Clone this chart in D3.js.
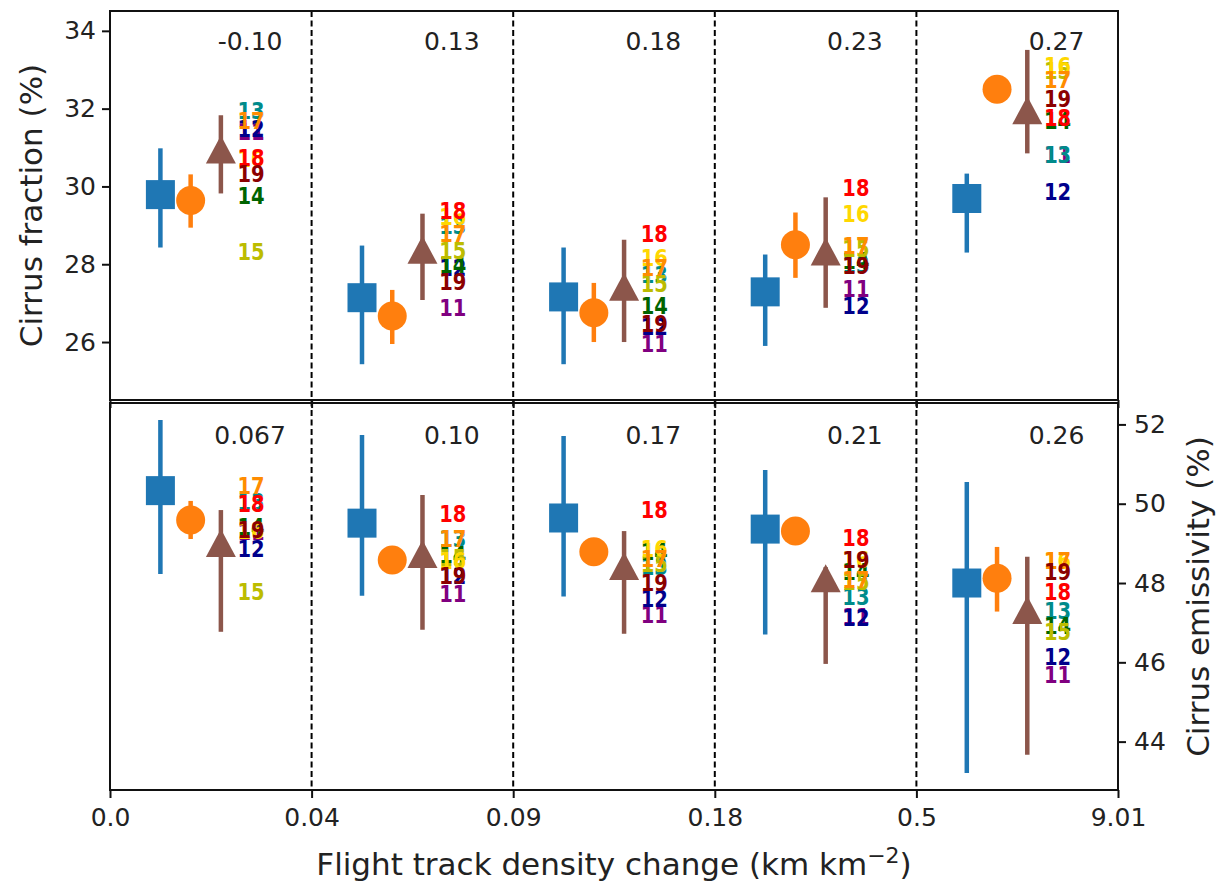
<!DOCTYPE html>
<html>
<head>
<meta charset="utf-8">
<script src="https://cdn.jsdelivr.net/npm/d3@7"></script>
<style>
  body { margin: 0; background: #fff; }
  svg text { font-family: "DejaVu Sans", sans-serif; fill: #222; }
</style>
</head>
<body>
<div id="chart"></div>
<script>
// Bin edges (tick labels) and per-panel correlation labels
var binLabels = ["0.0", "0.04", "0.09", "0.18", "0.5", "9.01"];
var fracCorr = ["-0.10", "0.13", "0.18", "0.23", "0.27"];
var emisCorr = ["0.067", "0.10", "0.17", "0.21", "0.26"];

var years = ["11", "12", "13", "14", "15", "16", "17", "18", "19"];
var yearColors = ["#800080", "#00008b", "#008b8b", "#006400", "#bcbc00",
                  "#ffd700", "#ff8c00", "#ff0000", "#8b0000"];

// Cirrus fraction: [value, lower, upper] per bin
var fracSquare = [[29.79, 28.43, 30.98], [27.14, 25.43, 28.48], [27.16, 25.43, 28.43], [27.29, 25.90, 28.25], [29.69, 28.30, 30.33]];
var fracCircle = [[29.64, 28.94, 30.31], [26.67, 25.95, 27.34], [26.75, 26.00, 27.52], [28.50, 27.65, 29.33], [32.50, 32.40, 32.60]];
var fracTriangle = [[30.95, 29.82, 31.83], [28.37, 27.08, 29.30], [27.42, 26.00, 28.63], [28.33, 26.88, 29.72], [31.96, 30.85, 33.51]];
// one row per year (11..19), one column per bin
var fracYears = [
  [31.42, 26.90, 25.97, 27.39, 30.83],
  [31.50, 27.91, 26.41, 26.95, 29.87],
  [31.96, 28.99, 27.75, 28.00, 30.83],
  [29.77, 28.00, 26.95, 28.09, 31.70],
  [28.32, 28.35, 27.50, 28.40, 32.99],
  [30.72, 29.22, 28.17, 29.30, 33.12],
  [31.70, 28.79, 27.91, 28.48, 32.74],
  [30.75, 29.38, 28.79, 29.97, 31.78],
  [30.33, 27.57, 26.49, 27.96, 32.25]
];

// Cirrus emissivity
var emisSquare = [[50.33, 48.23, 52.11], [49.51, 47.68, 51.73], [49.64, 47.66, 51.71], [49.36, 46.70, 50.85], [48.00, 43.21, 50.55]];
var emisCircle = [[49.59, 49.11, 50.07], [48.58, 48.48, 48.68], [48.79, 48.69, 48.89], [49.31, 49.21, 49.41], [48.12, 47.28, 48.91]];
var emisTriangle = [[49.01, 46.77, 49.84], [48.73, 46.82, 50.22], [48.43, 46.72, 49.31], [48.12, 45.96, 48.40], [47.32, 43.67, 48.66]];
var emisYears = [
  [49.30, 47.75, 47.20, 47.16, 45.69],
  [48.88, 48.20, 47.62, 47.13, 46.14],
  [50.07, 49.13, 48.41, 47.66, 47.30],
  [49.42, 48.71, 48.79, 48.28, 46.93],
  [47.78, 48.64, 48.50, 48.05, 46.77],
  [49.32, 48.58, 48.86, 48.60, 48.58],
  [50.47, 49.13, 48.63, 48.08, 48.58],
  [50.01, 49.76, 49.86, 49.14, 47.78],
  [49.35, 48.20, 48.01, 48.60, 48.28]
];

var svgWidth = 1223;
var svgHeight = 884;

var left = 110, right = 1118;
var topY0 = 11, topY1 = 400;
var botY0 = 403, botY1 = 790;

var svg = d3.select("#chart")
  .append("svg")
    .attr("width", svgWidth)
    .attr("height", svgHeight);

var x = d3.scaleLinear().domain([0, 5]).range([left, right]);
var yTop = d3.scaleLinear().domain([24.51, 34.51]).range([topY1, topY0]);
var yBot = d3.scaleLinear().domain([42.78, 52.54]).range([botY1, botY0]);

var markOffset = { square: 0.25, circle: 0.40, triangle: 0.55, year: 0.70 };

function drawPanel(g, y, squares, circles, triangles, yearVals) {
  // error bars
  [[squares, markOffset.square, "#1f77b4"],
   [circles, markOffset.circle, "#ff7f0e"],
   [triangles, markOffset.triangle, "#8c564b"]].forEach(function(s) {
    g.selectAll(null)
      .data(s[0])
      .enter()
      .append("line")
      .attr("x1", (d, i) => x(i + s[1]))
      .attr("x2", (d, i) => x(i + s[1]))
      .attr("y1", d => y(d[1]))
      .attr("y2", d => y(d[2]))
      .attr("stroke", s[2])
      .attr("stroke-width", 4.5);
  });

  g.selectAll(null)
    .data(squares)
    .enter()
    .append("rect")
    .attr("x", (d, i) => x(i + markOffset.square) - 14.5)
    .attr("y", d => y(d[0]) - 14.5)
    .attr("width", 29)
    .attr("height", 29)
    .attr("fill", "#1f77b4");

  g.selectAll(null)
    .data(circles)
    .enter()
    .append("circle")
    .attr("cx", (d, i) => x(i + markOffset.circle))
    .attr("cy", d => y(d[0]))
    .attr("r", 14.5)
    .attr("fill", "#ff7f0e");

  g.selectAll(null)
    .data(triangles)
    .enter()
    .append("path")
    .attr("d", function(d, i) {
      var cx = x(i + markOffset.triangle), cy = y(d[0]);
      return "M" + cx + "," + (cy - 14) + "L" + (cx + 15) + "," + (cy + 14) +
             "L" + (cx - 15) + "," + (cy + 14) + "Z";
    })
    .attr("fill", "#8c564b");

  // yearly labels, drawn 11 -> 19 (slightly tall, as in the original)
  yearVals.forEach(function(row, k) {
    g.selectAll(null)
      .data(row)
      .enter()
      .append("text")
      .attr("transform", (d, i) => `translate(${x(i + markOffset.year)}, ${y(d)}) scale(1, 1.22)`)
      .attr("dy", "0.36em")
      .attr("text-anchor", "middle")
      .style("font-size", "19.5px")
      .style("font-weight", "bold")
      .style("fill", yearColors[k])
      .text(years[k]);
  });
}

var topG = svg.append("g");
var botG = svg.append("g");

// dashed bin separators
svg.selectAll("line.sep")
  .data([1, 2, 3, 4])
  .enter()
  .append("line")
  .attr("class", "sep")
  .attr("x1", d => x(d))
  .attr("x2", d => x(d))
  .attr("y1", topY0)
  .attr("y2", botY1)
  .attr("stroke", "#000")
  .attr("stroke-width", 2)
  .attr("stroke-dasharray", "6,3.5");

drawPanel(topG, yTop, fracSquare, fracCircle, fracTriangle, fracYears);
drawPanel(botG, yBot, emisSquare, emisCircle, emisTriangle, emisYears);

// correlation labels
topG.selectAll(null)
  .data(fracCorr)
  .enter()
  .append("text")
  .attr("x", (d, i) => x(i + 0.695))
  .attr("y", topY0 + 39)
  .attr("text-anchor", "middle")
  .style("font-size", "25px")
  .text(d => d);

botG.selectAll(null)
  .data(emisCorr)
  .enter()
  .append("text")
  .attr("x", (d, i) => x(i + 0.695))
  .attr("y", botY0 + 41)
  .attr("text-anchor", "middle")
  .style("font-size", "25px")
  .text(d => d);

// panel frames
[[topY0, topY1], [botY0, botY1]].forEach(function(p) {
  svg.append("rect")
    .attr("x", left)
    .attr("y", p[0])
    .attr("width", right - left)
    .attr("height", p[1] - p[0])
    .attr("fill", "none")
    .attr("stroke", "#111")
    .attr("stroke-width", 2);
});

function styleAxis(sel) {
  sel.select(".domain").remove();
  sel.selectAll(".tick line").attr("stroke", "#111").attr("stroke-width", 2);
  sel.selectAll(".tick text").style("font-size", "25px").style("fill", "#222");
}

// left axis (top panel)
svg.append("g")
  .attr("transform", `translate(${left}, 0)`)
  .call(d3.axisLeft(yTop).tickValues([26, 28, 30, 32, 34]).tickSize(8).tickPadding(6))
  .call(styleAxis);

// right axis (bottom panel)
svg.append("g")
  .attr("transform", `translate(${right}, 0)`)
  .call(d3.axisRight(yBot).tickValues([44, 46, 48, 50, 52]).tickSize(8).tickPadding(8))
  .call(styleAxis);

// top panel x ticks, no labels
svg.append("g")
  .attr("transform", `translate(0, ${topY1})`)
  .call(d3.axisBottom(x).tickValues([0, 1, 2, 3, 4, 5]).tickSize(8).tickFormat(""))
  .call(styleAxis);

// bottom x axis
svg.append("g")
  .attr("transform", `translate(0, ${botY1})`)
  .call(d3.axisBottom(x).tickValues([0, 1, 2, 3, 4, 5]).tickSize(8).tickPadding(10)
    .tickFormat((d, i) => binLabels[i]))
  .call(styleAxis);

// axis titles
svg.append("text")
  .attr("transform", `translate(42, ${(topY0 + topY1) / 2}) rotate(-90)`)
  .attr("text-anchor", "middle")
  .style("font-size", "31px")
  .text("Cirrus fraction (%)");

svg.append("text")
  .attr("transform", `translate(1187, ${(botY0 + botY1) / 2}) rotate(-90)`)
  .attr("text-anchor", "middle")
  .attr("dy", "0.7em")
  .style("font-size", "31px")
  .text("Cirrus emissivity (%)");

var xt = svg.append("text")
  .attr("x", (left + right) / 2)
  .attr("y", 875)
  .attr("text-anchor", "middle")
  .style("font-size", "31px");
xt.append("tspan").text("Flight track density change (km km");
xt.append("tspan").attr("dy", -12).style("font-size", "22px").text("\u22122");
xt.append("tspan").attr("dy", 12).text(")");
</script>
</body>
</html>
